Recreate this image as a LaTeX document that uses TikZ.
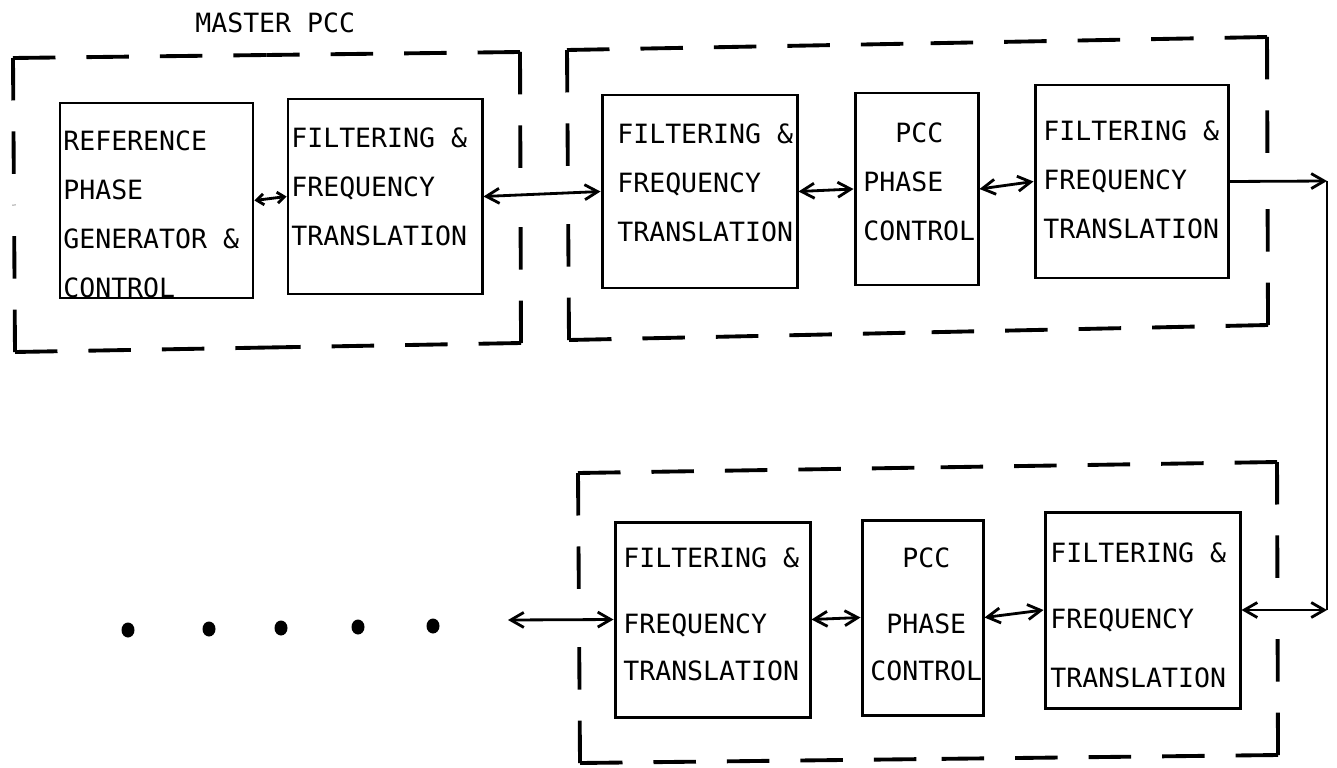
\documentclass[tikz,border=0pt]{standalone}
\usepackage{fontspec}
\newfontfamily\typefont{DejaVu Sans Mono}
\usetikzlibrary{arrows.meta, fit, calc}

\tikzset{
  blk/.style={draw, line width=1.7pt, inner sep=0pt},
  txt/.style={font=\typefont\fontsize{15.1pt}{27.9pt}\selectfont, align=left, anchor=north west, inner sep=0pt},
  grp/.style={line width=2.2pt, dash pattern=on 0.85cm off 0.62cm},
  link/.style={line width=1.6pt},
}

\begin{document}
\begin{tikzpicture}[x=0.02cm, y=-0.02cm, >={Straight Barb[length=2.6mm,width=3mm]}]
\useasboundingbox (0,0) rectangle (1337,767);

% 破線の枠
\coordinate (m1) at (13,58);   \coordinate (m2) at (520,52);
\coordinate (m3) at (521,343); \coordinate (m4) at (15,352);
\coordinate (s1) at (567,50);  \coordinate (s2) at (1267,37);
\coordinate (s3) at (1268,325);\coordinate (s4) at (569,340);
\coordinate (t1) at (578,473); \coordinate (t2) at (1277,462);
\coordinate (t3) at (1278,755);\coordinate (t4) at (580,763);
\foreach \p/\q in {m1/m2, m2/m3, m3/m4, m4/m1, s1/s2, s2/s3, s3/s4, s4/s1,
    t1/t2, t2/t3, t3/t4, t4/t1} {
  \draw[grp] (\p) -- ($(\p)!0.5!(\q)$);
  \draw[grp] (\q) -- ($(\p)!0.5!(\q)$);
}
\node[txt, anchor=west] (master) at (195,22.5) {MASTER PCC};

% ブロック
\foreach \nm/\xa/\ya/\xb/\yb in {refgen/60/103/253/298, ftA/288/99/482/294,
    ftB/602/95/797/288, pccA/855/93/978/285, ftC/1035/85/1228/278,
    ftD/615/522/810/717, pccB/862/520/983/715, ftE/1045/512/1240/708} {
  \node[blk, fit={(\xa,\ya) (\xb,\yb)}] (\nm) {};
}

% ブロックの文字
\node[txt] (refgen-t) at (63,130) {REFERENCE\\PHASE\\GENERATOR \&\\CONTROL};
\node[txt] (ftA-t) at (291,127) {FILTERING \&\\FREQUENCY\\TRANSLATION};
\node[txt] (ftB-t) at (617,123) {FILTERING \&\\FREQUENCY\\TRANSLATION};
\node[txt] (pccA-t) at (863,122) {\phantom{PH}PCC\\PHASE\\CONTROL};
\node[txt] (ftC-t) at (1043,120) {FILTERING \&\\FREQUENCY\\TRANSLATION};
\node[txt] (ftD-t) at (623,547) {FILTERING \&\\[9.7pt]FREQUENCY\\[-1pt]TRANSLATION};
\node[txt] (pccB-t) at (870,547) {\phantom{PH}PCC\\[9.7pt]\phantom{P}PHASE\\[-1pt]CONTROL};
\node[txt] (ftE-t) at (1050,542) {FILTERING \&\\[9.7pt]FREQUENCY\\[5.7pt]TRANSLATION};

% 接続
\coordinate (farleft) at (508,620);
\coordinate (turnA) at (1327,181);
\coordinate (turnB) at (1327,610);
\draw[link, <->, >={Straight Barb[length=1.4mm,width=2.2mm]}] (refgen.east) -- (ftA.west);
\draw[link, <->] (ftA.east) -- (ftB.west);
\draw[link, <->] (ftB.east) -- (pccA.west);
\draw[link, <->] (pccA.east) -- (ftC.west);
\draw[link, ->] (ftC.east) -- (turnA);
\draw[link] (turnA) -- (turnB);
\draw[link, <->] (ftE.east) -- (turnB);
\draw[link, <->] (pccB.east) -- (ftE.west);
\draw[link, <->] (ftD.east) -- (pccB.west);
\draw[link, <->] (farleft) -- (ftD.west);

% 点
\foreach \x/\y in {128/630, 209/629, 281/628, 358/627, 433/626} {
  \fill (\x,\y) ellipse [x radius=0.13cm, y radius=0.15cm];
}

\end{tikzpicture}
\end{document}
